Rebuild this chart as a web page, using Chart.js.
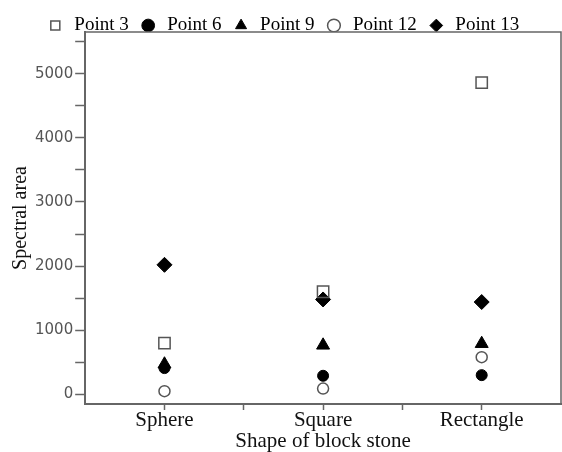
<!DOCTYPE html>
<html>
<head>
<meta charset="utf-8">
<title>Spectral area by block stone shape</title>
<script src="https://cdn.jsdelivr.net/npm/chart.js@4.4.0/dist/chart.umd.min.js"></script>
<style>
  body { margin: 0; background: #fff; }
</style>
</head>
<body>
<canvas id="results" width="562" height="452"></canvas>
<script>
'use strict';

var categories = ['Sphere', 'Square', 'Rectangle'];
var point3 = [800, 1600, 4860];
var point6 = [410, 290, 300];
var point9 = [470, 765, 790];
var point12 = [50, 90, 580];
var point13 = [2020, 1480, 1440];

var xTicks = [1, 1.5, 2, 2.5, 3];
var yTicks = [0, 500, 1000, 1500, 2000, 2500, 3000, 3500, 4000, 4500, 5000, 5500];
var xMin = 0.5, xMax = 3.5;
var yMin = -150, yMax = 5650;

var serif = 'Liberation Serif';
var axisGray = '#666';

function toPoints(values) {
    var pts = [];
    for (var i = 0; i < values.length; i++) {
        pts.push({ x: i + 1, y: values[i] });
    }
    return pts;
}

// top + right edges of the plot box
var frameLines = {
    id: 'frameLines',
    afterDraw: function(chart) {
        var a = chart.chartArea;
        var c = chart.ctx;
        c.save();
        c.strokeStyle = axisGray;
        c.lineWidth = 1.5;
        c.beginPath();
        c.moveTo(a.left, a.top);
        c.lineTo(a.right, a.top);
        c.lineTo(a.right, a.bottom);
        c.stroke();
        c.restore();
    }
};

var ctx = document.getElementById('results').getContext('2d');

var chart = new Chart(ctx, {
    type: 'scatter',
    data: {
        datasets: [
            {
                label: 'Point 3',
                data: toPoints(point3),
                pointStyle: 'rect',
                radius: 8,
                backgroundColor: 'rgba(255,255,255,0)',
                borderColor: '#555',
                borderWidth: 1.5
            },
            {
                label: 'Point 6',
                data: toPoints(point6),
                pointStyle: 'circle',
                radius: 5.5,
                backgroundColor: '#000',
                borderColor: '#000',
                borderWidth: 1
            },
            {
                label: 'Point 9',
                data: toPoints(point9),
                pointStyle: 'triangle',
                radius: 7.5,
                backgroundColor: '#000',
                borderColor: '#000',
                borderWidth: 1
            },
            {
                label: 'Point 12',
                data: toPoints(point12),
                pointStyle: 'circle',
                radius: 5.5,
                backgroundColor: 'rgba(255,255,255,0)',
                borderColor: '#555',
                borderWidth: 1.5
            },
            {
                label: 'Point 13',
                data: toPoints(point13),
                pointStyle: 'rectRot',
                radius: 7.5,
                backgroundColor: '#000',
                borderColor: '#000',
                borderWidth: 1
            }
        ]
    },
    options: {
        responsive: false,
        animation: false,
        layout: { autoPadding: false, padding: { top: 6, left: 4, right: 1, bottom: 0 } },
        plugins: {
            tooltip: { enabled: false },
            legend: {
                position: 'top',
                maxHeight: 26,
                labels: {
                    usePointStyle: true,
                    boxWidth: 19,
                    boxHeight: 9,
                    padding: 10,
                    color: '#000',
                    font: { family: serif, size: 19 }
                }
            }
        },
        scales: {
            x: {
                type: 'linear',
                min: xMin,
                max: xMax,
                afterBuildTicks: function(scale) {
                    scale.ticks = xTicks.map(function(v) { return { value: v }; });
                },
                // labels sit well inside the axis, so no extra side padding
                afterFit: function(scale) {
                    scale.paddingLeft = 0;
                    scale.paddingRight = 0;
                },
                grid: {
                    drawOnChartArea: false,
                    drawTicks: true,
                    tickLength: 6,
                    tickColor: axisGray,
                    tickWidth: 1.5
                },
                border: { color: axisGray, width: 2 },
                ticks: {
                    autoSkip: false,
                    maxRotation: 0,
                    padding: 0,
                    color: '#111',
                    font: { family: serif, size: 21, lineHeight: 1 },
                    callback: function(value) {
                        if (Number.isInteger(value)) {
                            return categories[value - 1];
                        }
                        return '';
                    }
                },
                title: {
                    display: true,
                    text: 'Shape of block stone',
                    color: '#111',
                    padding: 0,
                    font: { family: serif, size: 21, lineHeight: 1 }
                }
            },
            y: {
                min: yMin,
                max: yMax,
                afterBuildTicks: function(scale) {
                    scale.ticks = yTicks.map(function(v) { return { value: v }; });
                },
                grid: {
                    drawOnChartArea: false,
                    drawTicks: true,
                    tickLength: 10,
                    tickColor: axisGray,
                    tickWidth: 1.5
                },
                border: { color: axisGray, width: 2 },
                ticks: {
                    autoSkip: false,
                    padding: 2,
                    color: '#555',
                    font: { family: 'DejaVu Sans', size: 15 },
                    callback: function(value) {
                        return value % 1000 === 0 ? String(value) : '';
                    }
                },
                title: {
                    display: true,
                    text: 'Spectral area',
                    color: '#111',
                    padding: { top: 5, bottom: 0 },
                    font: { family: serif, size: 20, lineHeight: 1.2 }
                }
            }
        }
    },
    plugins: [frameLines]
});
</script>
</body>
</html>
